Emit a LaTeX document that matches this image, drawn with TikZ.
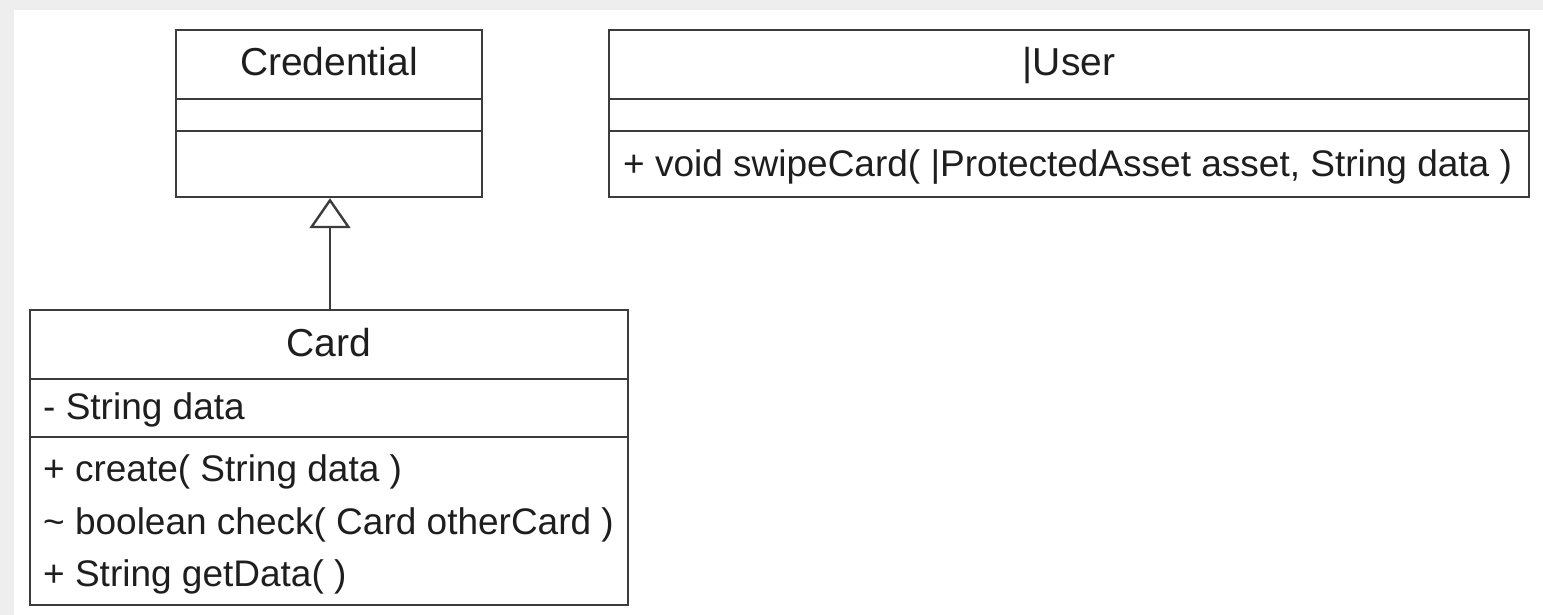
\documentclass[tikz,border=0pt]{standalone}
\usepackage{fontspec}
\setmainfont{Liberation Sans}
\usetikzlibrary{arrows.meta}
\definecolor{linec}{HTML}{3C3C3C}
\definecolor{txtc}{HTML}{1E1E1E}
\definecolor{bgc}{HTML}{EEEEEE}
\begin{document}
\begin{tikzpicture}[x=1pt,y=-1pt,
  cls/.style={draw=linec, line width=2.4pt, fill=white, inner sep=0pt},
  title/.style={font=\fontsize{39}{45}\selectfont, text=txtc, inner sep=0pt, anchor=base},
  member/.style={font=\fontsize{37}{43}\selectfont, text=txtc, inner sep=0pt, anchor=base west},
  divider/.style={draw=linec, line width=2.4pt},
  gen/.style={draw=linec, line width=2.4pt, -{Triangle[open, length=30pt, width=41pt]}}]
\useasboundingbox (0,0) rectangle (1543,615);
\fill[bgc] (0,0) rectangle (1543,615);
\fill[white] (14,10) rectangle (1543,615);

% Credential
\node[cls, minimum width=306pt, minimum height=167pt] (cred) at (329,113.5) {};
\node[title] (credT) at (329,76) {Credential};
\draw[divider] (cred.west |- 0,99) -- (cred.east |- 0,99);
\draw[divider] (cred.west |- 0,131) -- (cred.east |- 0,131);

% User
\node[cls, minimum width=920pt, minimum height=167pt] (user) at (1069,113.5) {};
\node[title] (userT) at (1069,76) {|User};
\draw[divider] (user.west |- 0,99) -- (user.east |- 0,99);
\draw[divider] (user.west |- 0,131) -- (user.east |- 0,131);
\node[member] (userM1) at (623,177) {+ void swipeCard( |ProtectedAsset asset, String data )};

% Card
\node[cls, minimum width=598pt, minimum height=295pt] (card) at (329,457.5) {};
\node[title] (cardT) at (329,356) {Card};
\draw[divider] (card.west |- 0,379) -- (card.east |- 0,379);
\draw[divider] (card.west |- 0,437) -- (card.east |- 0,437);
\node[member] (cardA1) at (43,419) {- String data};
\node[member] (cardM1) at (43,481) {+ create( String data )};
\node[member] (cardM2) at (43,534) {\textasciitilde{} boolean check( Card otherCard )};
\node[member] (cardM3) at (43,586) {+ String getData( )};

% Generalization
\draw[gen] (card.north -| 330,0) -- (cred.south -| 330,0);
\end{tikzpicture}
\end{document}
